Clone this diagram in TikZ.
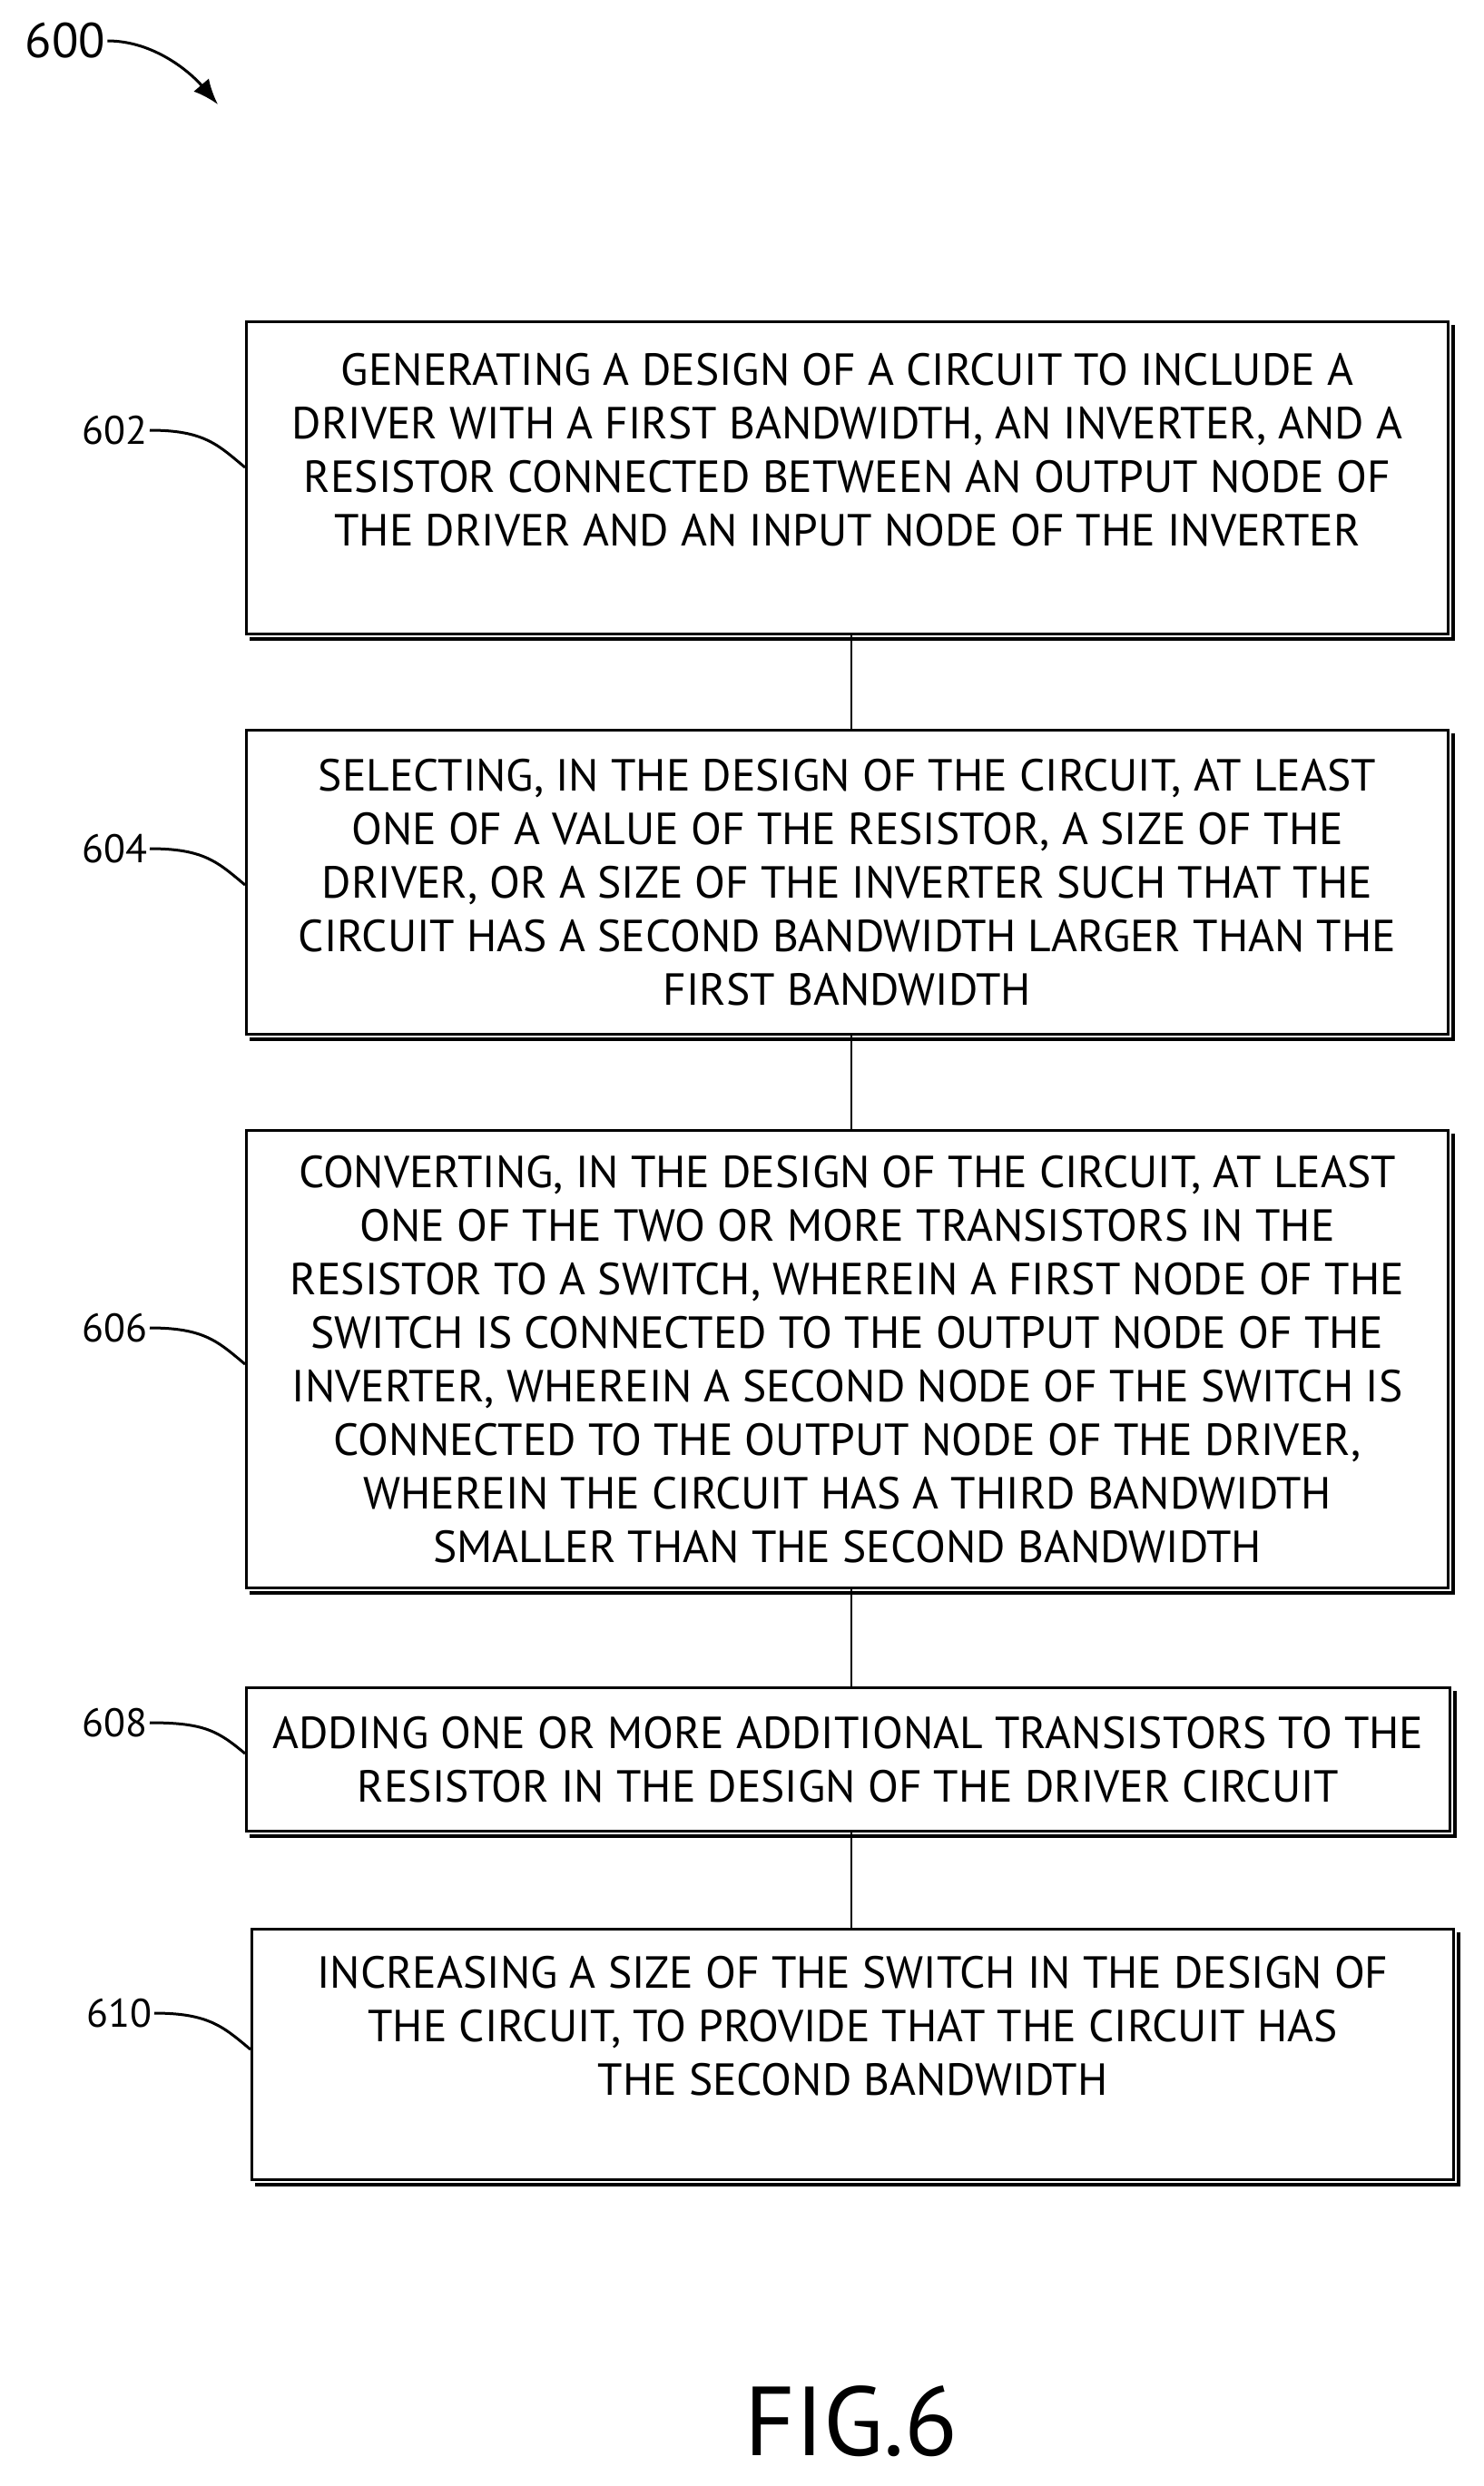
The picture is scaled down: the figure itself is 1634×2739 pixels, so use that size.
\documentclass[tikz,border=0pt]{standalone}
\usetikzlibrary{arrows.meta}
\usepackage{fontspec}
\setmainfont{PT Sans}
\begin{document}
\begin{tikzpicture}[x=1pt,y=1pt,
  box/.style={draw,line width=3pt,anchor=north west,align=center,inner sep=0pt,
    font=\fontsize{49.5}{59}\selectfont},
  shade/.style={line width=3.5pt},
  lbl/.style={font=\fontsize{44}{50}\selectfont,inner sep=2pt},
  lead/.style={line width=3pt},
  conn/.style={line width=2.5pt}]
\useasboundingbox (0,0) rectangle (1634,-2739);
\node[box,minimum width=1324pt,minimum height=344pt] (b602) at (270,-353)
 {GENERATING A DESIGN OF A CIRCUIT TO INCLUDE A\\DRIVER WITH A FIRST BANDWIDTH, AN INVERTER, AND A\\RESISTOR CONNECTED BETWEEN AN OUTPUT NODE OF\\THE DRIVER AND AN INPUT NODE OF THE INVERTER\\[4pt]};
\node[box,minimum width=1324pt,minimum height=335pt] (b604) at (270,-803)
 {SELECTING, IN THE DESIGN OF THE CIRCUIT, AT LEAST\\ONE OF A VALUE OF THE RESISTOR, A SIZE OF THE\\DRIVER, OR A SIZE OF THE INVERTER SUCH THAT THE\\CIRCUIT HAS A SECOND BANDWIDTH LARGER THAN THE\\FIRST BANDWIDTH};
\node[box,minimum width=1324pt,minimum height=504pt] (b606) at (270,-1244)
 {CONVERTING, IN THE DESIGN OF THE CIRCUIT, AT LEAST\\ONE OF THE TWO OR MORE TRANSISTORS IN THE\\RESISTOR TO A SWITCH, WHEREIN A FIRST NODE OF THE\\SWITCH IS CONNECTED TO THE OUTPUT NODE OF THE\\INVERTER, WHEREIN A SECOND NODE OF THE SWITCH IS\\CONNECTED TO THE OUTPUT NODE OF THE DRIVER,\\WHEREIN THE CIRCUIT HAS A THIRD BANDWIDTH\\SMALLER THAN THE SECOND BANDWIDTH};
\node[box,minimum width=1326pt,minimum height=158pt] (b608) at (270,-1858)
 {ADDING ONE OR MORE ADDITIONAL TRANSISTORS TO THE\\RESISTOR IN THE DESIGN OF THE DRIVER CIRCUIT};
\node[box,minimum width=1324pt,minimum height=276pt] (b610) at (276,-2124)
 {INCREASING A SIZE OF THE SWITCH IN THE DESIGN OF\\THE CIRCUIT, TO PROVIDE THAT THE CIRCUIT HAS\\THE SECOND BANDWIDTH\\[4pt]};
\foreach \b in {b602,b604,b606,b608,b610}{
  \draw[shade] ([xshift=5pt,yshift=-4pt]\b.south west) -| ([xshift=4pt,yshift=-5pt]\b.north east);}
\draw[conn] (b602.south -| 938,0) -- (b604.north -| 938,0);
\draw[conn] (b604.south -| 938,0) -- (b606.north -| 938,0);
\draw[conn] (b606.south -| 938,0) -- (b608.north -| 938,0);
\draw[conn] (b608.south -| 938,0) -- (b610.north -| 938,0);
\node[lbl,anchor=east] (l602) at (165,-474) {602};
\node[lbl,anchor=east] (l604) at (165,-935) {604};
\node[lbl,anchor=east] (l606) at (165,-1463) {606};
\node[lbl,anchor=east] (l608) at (165,-1898) {608};
\node[lbl,anchor=east] (l610) at (170,-2218) {610};
\foreach \l/\b/\y in {l602/b602/-515,l604/b604/-975,l606/b606/-1503,l608/b608/-1932,l610/b610/-2258}{
  \draw[lead] (\l.east) .. controls ([xshift=60pt]\l.east) and ([xshift=-30pt,yshift=25pt]\b.west |- 0,\y) .. (\b.west |- 0,\y);}
\node[font=\fontsize{54}{60}\selectfont,inner sep=2pt] (l600) at (72,-45) {600};
\coordinate (a600) at (240,-115);
\draw[line width=3pt,-{Latex[length=28pt,width=22pt]}] (l600.east) .. controls (170,-45) and (210,-80) .. (a600);
\node[font=\fontsize{108}{110}\selectfont] (fig) at (938,-2668) {FIG.6};
\end{tikzpicture}
\end{document}
